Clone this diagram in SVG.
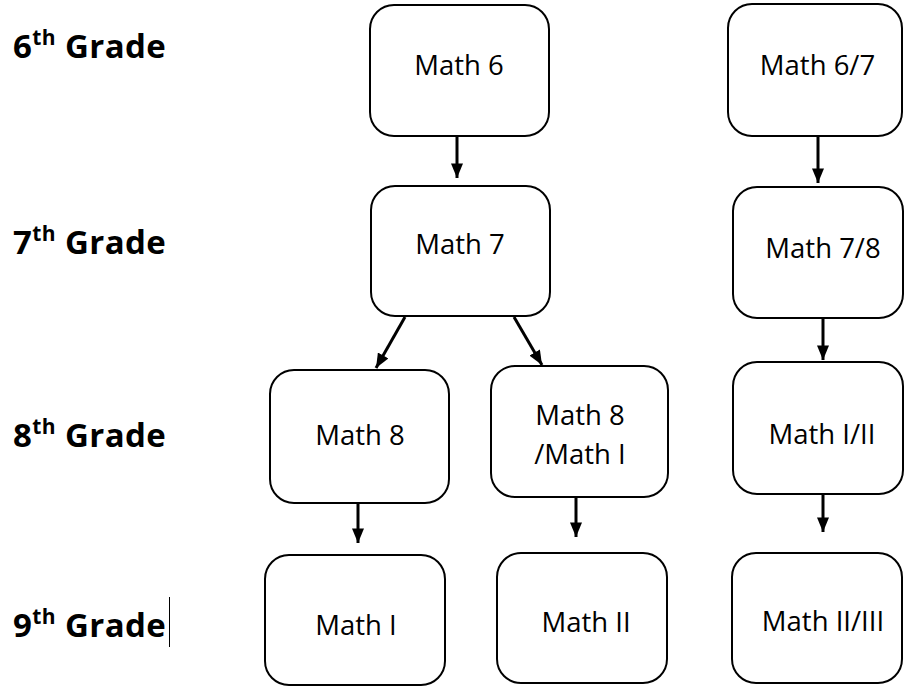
<svg xmlns="http://www.w3.org/2000/svg" width="904" height="687" viewBox="0 0 904 687">
<style>
.box{fill:#fff;stroke:#000;stroke-width:2}
.t{font-family:"Open Sans","Liberation Sans",sans-serif;font-size:27.5px;fill:#000;text-anchor:middle}
.g{font-family:"Open Sans","Liberation Sans",sans-serif;font-size:33px;font-weight:bold;fill:#000;letter-spacing:0.4px}
.s{font-size:21px}
.c{stroke:#000;stroke-width:3;fill:none;marker-end:url(#ah)}
</style>
<defs>
<marker id="ah" viewBox="0 0 12 10" refX="12" refY="5" markerWidth="5" markerHeight="4" orient="auto" markerUnits="strokeWidth">
<path d="M0,0 L12,5 L0,10 z" fill="#000"/>
</marker>
</defs>
<g id="labels">
<text class="g" x="13" y="58">6<tspan class="s" dy="-13">th</tspan><tspan dy="13"> Grade</tspan></text>
<text class="g" x="13" y="254">7<tspan class="s" dy="-13">th</tspan><tspan dy="13"> Grade</tspan></text>
<text class="g" x="13" y="447">8<tspan class="s" dy="-13">th</tspan><tspan dy="13"> Grade</tspan></text>
<text class="g" x="13" y="637">9<tspan class="s" dy="-13">th</tspan><tspan dy="13"> Grade</tspan></text>
<line x1="169.5" y1="597" x2="169.5" y2="647" stroke="#000" stroke-width="1"/>
</g>
<g id="connectors">
<line class="c" x1="457" y1="137" x2="457" y2="178"/>
<line class="c" x1="818" y1="136" x2="818" y2="183"/>
<line class="c" x1="405" y1="317" x2="376" y2="368"/>
<line class="c" x1="514" y1="317" x2="542" y2="365"/>
<line class="c" x1="823" y1="318" x2="823" y2="360"/>
<line class="c" x1="358" y1="503" x2="358" y2="543"/>
<line class="c" x1="576" y1="497" x2="576" y2="537"/>
<line class="c" x1="823" y1="494" x2="823" y2="532"/>
</g>
<g id="math6"><rect class="box" x="370" y="5" width="179" height="131" rx="24"/><text class="t" x="459" y="75">Math 6</text></g>
<g id="math7"><rect class="box" x="371" y="186" width="179" height="130" rx="24"/><text class="t" x="460" y="254">Math 7</text></g>
<g id="math67"><rect class="box" x="728" y="4" width="174" height="132" rx="24"/><text class="t" x="817.5" y="75">Math 6/7</text></g>
<g id="math78"><rect class="box" x="733" y="187" width="170" height="131" rx="24"/><text class="t" x="823" y="258">Math 7/8</text></g>
<g id="mathI_II"><rect class="box" x="733" y="362" width="170" height="132" rx="24"/><text class="t" x="822" y="444">Math I/II</text></g>
<g id="math8"><rect class="box" x="270" y="370" width="179" height="133" rx="24"/><text class="t" x="360" y="445">Math 8</text></g>
<g id="math8_I"><rect class="box" x="491" y="366" width="177" height="131" rx="24"/><text class="t" x="580" y="425">Math 8</text><text class="t" x="580" y="464">/Math I</text></g>
<g id="mathI"><rect class="box" x="265" y="555" width="180" height="130" rx="24"/><text class="t" x="356" y="635">Math I</text></g>
<g id="mathII"><rect class="box" x="497" y="553" width="170" height="130" rx="24"/><text class="t" x="586" y="632">Math II</text></g>
<g id="mathII_III"><rect class="box" x="732" y="553" width="170" height="130" rx="24"/><text class="t" x="823" y="631">Math II/III</text></g>
</svg>
